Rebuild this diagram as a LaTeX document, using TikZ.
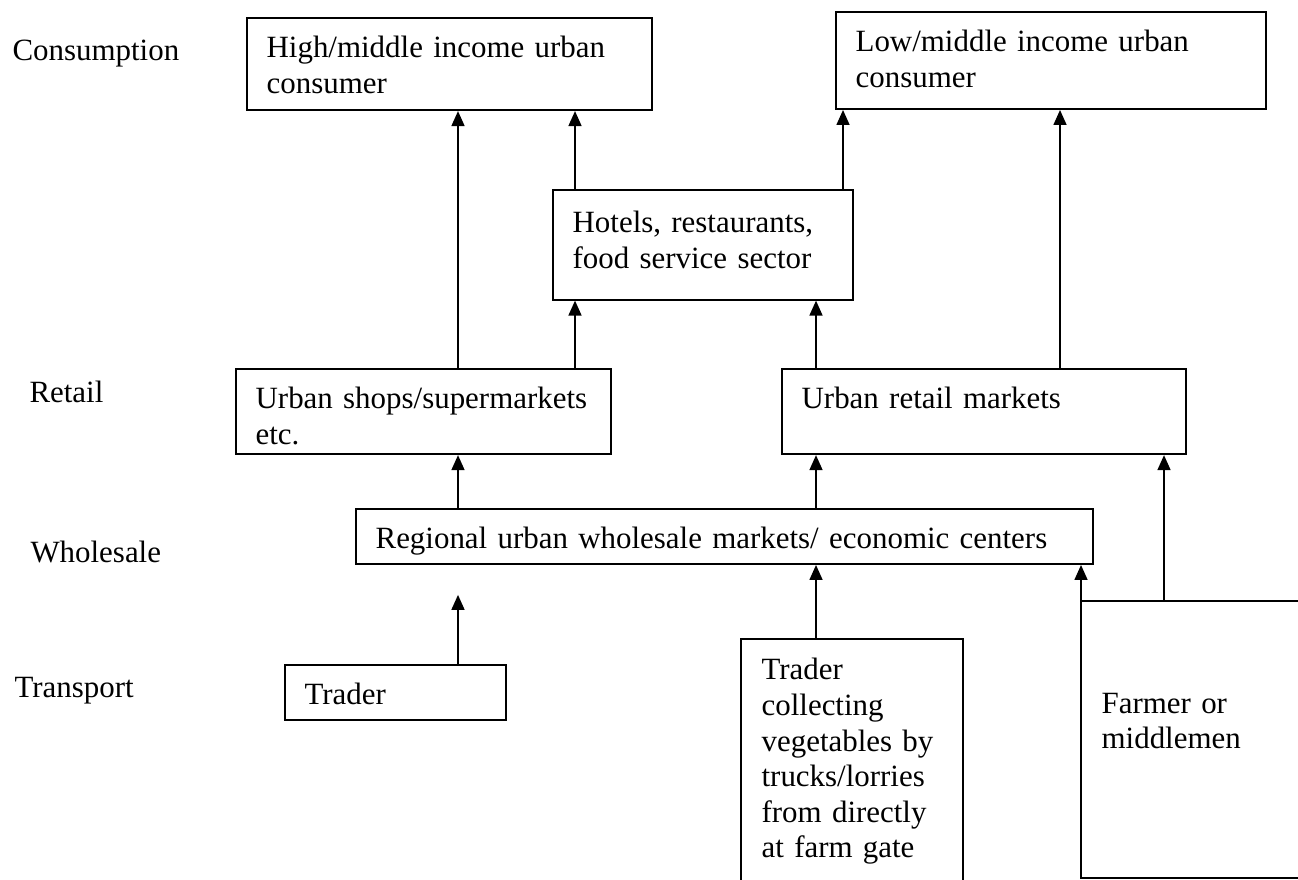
\documentclass[tikz,border=0pt]{standalone}
\usepackage{fontspec}
\setmainfont{Liberation Serif}
\usetikzlibrary{arrows.meta}
\tikzset{
  box/.style={draw, line width=0.8pt, anchor=north west, inner xsep=7.6pt, inner ysep=0pt,
    align=left, text height=15.5pt, font=\fontsize{12pt}{13.8pt}\selectfont},
  lvl/.style={anchor=base west, inner sep=0pt, font=\fontsize{12pt}{13.8pt}\selectfont},
  arr/.style={-{Triangle[length=5.8pt,width=5pt]}, line width=0.7pt}
}
\begin{document}
\begin{tikzpicture}[x=0.388pt,y=-0.388pt]
\useasboundingbox (0,0) rectangle (1298,879);
%
\node[lvl] (lcons) at (12,60) {Consumption};
\node[lvl] (lret) at (29,402) {Retail};
\node[lvl] (lwhole) at (30,562) {Wholesale};
\node[lvl] (ltrans) at (14,697) {Transport};
%
\node[box, text width=141.9pt, text depth=20.2pt] (hm) at (246,17) {High/middle income urban\\consumer};
\node[box, text width=151.6pt, text depth=22.1pt] (lm) at (835,11) {Low/middle income urban\\consumer};
\node[box, text width=101.2pt, text depth=26pt, text height=16.5pt] (hotel) at (552,189) {Hotels, restaurants,\\food service sector};
\node[box, text width=130.3pt, text depth=17.5pt] (shops) at (235,368) {Urban shops/supermarkets\\etc.};
\node[box, text width=141.6pt, text depth=17.5pt] (rmkt) at (781,368) {Urban retail markets};
\node[box, text width=270.8pt, text depth=5.8pt] (whole) at (355,508) {Regional urban wholesale markets/ economic centers};
\node[box, text width=70.5pt, text depth=5.8pt] (trader) at (284,664) {Trader};
%
% open boxes, cut by the page edge
\node[box, draw=none, text width=70.2pt, text depth=100.9pt] (truck) at (741,639) {Trader\\collecting\\vegetables by\\trucks/lorries\\from directly\\at farm gate};
\draw[line width=0.8pt] (truck.south west) -- (truck.north west) -- (truck.north east) -- (truck.south east);
\node[box, draw=none, text width=140pt, text height=43.1pt, text depth=63.6pt] (farmer) at (1081,601) {Farmer or\\middlemen};
\draw[line width=0.8pt] (farmer.north east) -- (farmer.north west) -- (farmer.south west) -- (farmer.south east);
%
\coordinate (xa) at (458,0);
\coordinate (xb) at (575,0);
\coordinate (xc) at (843,0);
\coordinate (xd) at (1060,0);
\coordinate (xe) at (816,0);
\coordinate (xf) at (1164,0);
\coordinate (xg) at (1081,0);
%
\draw[arr] (shops.north -| xa) -- (hm.south -| xa);
\draw[arr] (hotel.north -| xb) -- (hm.south -| xb);
\draw[arr] (hotel.north -| xc) -- (lm.south -| xc);
\draw[arr] (rmkt.north -| xd) -- (lm.south -| xd);
%
\draw[arr] (shops.north -| xb) -- (hotel.south -| xb);
\draw[arr] (rmkt.north -| xe) -- (hotel.south -| xe);
%
\draw[arr] (whole.north -| xa) -- (shops.south -| xa);
\draw[arr] (whole.north -| xe) -- (rmkt.south -| xe);
\draw[arr] (farmer.north -| xf) -- (rmkt.south -| xf);
%
\draw[arr] (trader.north -| xa) -- ([yshift=-11.6pt]whole.south -| xa);
\draw[arr] (truck.north -| xe) -- (whole.south -| xe);
\draw[arr] (farmer.south west) -- (whole.south -| xg);
\end{tikzpicture}
\end{document}
